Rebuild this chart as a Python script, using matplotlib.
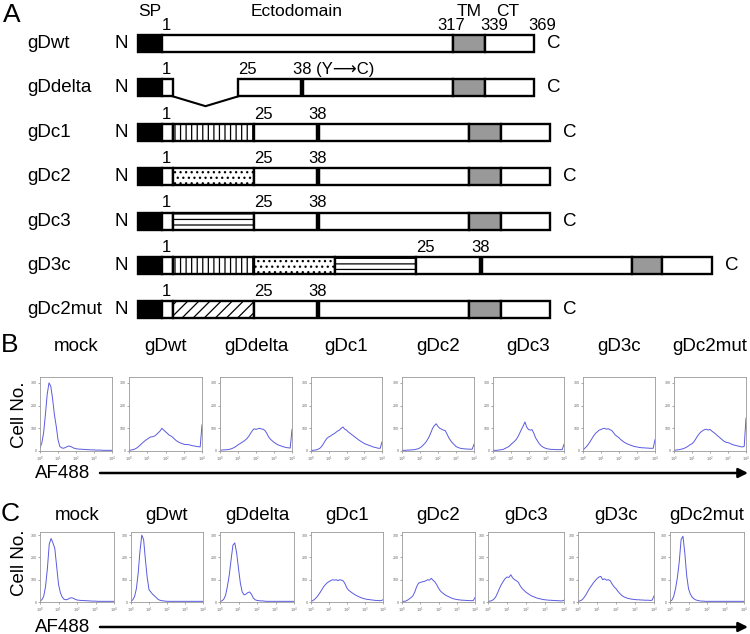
import numpy as np
import matplotlib
matplotlib.use("Agg")
import matplotlib.pyplot as plt
from matplotlib.patches import Rectangle
from matplotlib.ticker import NullLocator

plt.rcParams['font.family'] = ['Liberation Sans', 'DejaVu Sans']
plt.rcParams['hatch.linewidth'] = 0.9

W, H = 750, 634

# ---------------- panel A data (schematic units along each bar) ----------------
constructs = ["gDwt", "gDdelta", "gDc1", "gDc2", "gDc3", "gD3c", "gDc2mut"]

segs_gdwt = [(0, 24, "sp"), (24, 315, "plain"), (315, 347, "tm"), (347, 396, "plain")]
segs_gddelta = [(0, 24, "sp"), (24, 35, "plain"), (35, 100, "gap"), (100, 315, "plain"),
                (315, 347, "tm"), (347, 396, "plain")]
segs_gdc1 = [(0, 24, "sp"), (24, 35, "plain"), (35, 116, "vert"), (116, 331, "plain"),
             (331, 363, "tm"), (363, 412, "plain")]
segs_gdc2 = [(0, 24, "sp"), (24, 35, "plain"), (35, 116, "dots"), (116, 331, "plain"),
             (331, 363, "tm"), (363, 412, "plain")]
segs_gdc3 = [(0, 24, "sp"), (24, 35, "plain"), (35, 116, "horiz"), (116, 331, "plain"),
             (331, 363, "tm"), (363, 412, "plain")]
segs_gd3c = [(0, 24, "sp"), (24, 35, "plain"), (35, 116, "vert"), (116, 197, "dots"),
             (197, 278, "horiz"), (278, 494, "plain"), (494, 524, "tm"), (524, 574, "plain")]
segs_gdc2mut = [(0, 24, "sp"), (24, 35, "plain"), (35, 116, "diag"), (116, 331, "plain"),
                (331, 363, "tm"), (363, 412, "plain")]
construct_segments = [segs_gdwt, segs_gddelta, segs_gdc1, segs_gdc2, segs_gdc3, segs_gd3c, segs_gdc2mut]

# position of residue 38 (Y->C) marker
residue38_pos = [None, 164, 180, 180, 180, 343, 180]

# residue-number labels: (text, position, alignment)
labels_gdwt = [("1", 24, "left"), ("317", 313, "center"), ("339", 356, "center"), ("369", 404, "center")]
labels_gddelta = [("1", 24, "left"), ("25", 100, "left"), ("38 (Y\u27f6C)", 155, "left")]
labels_std = [("1", 24, "left"), ("25", 116, "left"), ("38", 180, "center")]
labels_gd3c = [("1", 24, "left"), ("25", 278, "left"), ("38", 343, "center")]
construct_labels = [labels_gdwt, labels_gddelta, labels_std, labels_std, labels_std, labels_gd3c, labels_std]

domain_headers = [("SP", 12), ("Ectodomain", 159), ("TM", 331), ("CT", 370)]

seg_styles = {
    "sp": ("black", None),
    "plain": ("white", None),
    "tm": ("#999999", None),
    "vert": ("white", "|||"),
    "dots": ("white", "..."),
    "horiz": ("white", "---"),
    "diag": ("white", "///"),
}

# ---------------- panel B / C data (flow cytometry histograms) ----------------
hist_titles = ["mock", "gDwt", "gDdelta", "gDc1", "gDc2", "gDc3", "gD3c", "gDc2mut"]
channel_decades = np.round(np.arange(0, 4.01, 0.1), 1)  # AF488 channel, log10

b_mock = [15, 35, 80, 160, 250, 300, 285, 230, 160, 110, 50, 20, 14, 12, 15, 19, 22, 20, 16, 12,
          10, 9, 8, 8, 7, 7, 6, 6, 5, 5, 5, 4, 4, 4, 4, 3, 3, 3, 3, 3, 3]
b_gdwt = [3, 4, 6, 8, 12, 18, 25, 33, 40, 47, 52, 58, 62, 63, 66, 72, 80, 88, 100, 92,
          85, 78, 70, 66, 60, 52, 45, 40, 36, 33, 30, 28, 29, 27, 25, 23, 22, 20, 19, 18, 115]
b_gddelta = [4, 4, 5, 5, 6, 7, 9, 12, 16, 21, 27, 32, 37, 42, 48, 55, 65, 78, 90, 98,
             95, 98, 100, 97, 96, 90, 78, 62, 52, 45, 38, 33, 28, 25, 22, 19, 17, 15, 14, 13, 95]
b_gdc1 = [3, 3, 4, 5, 8, 12, 20, 32, 45, 56, 62, 66, 72, 76, 82, 88, 92, 100, 106, 96,
          92, 84, 78, 72, 66, 60, 54, 48, 43, 38, 33, 30, 27, 24, 21, 18, 16, 14, 12, 12, 40]
b_gdc2 = [3, 3, 3, 4, 4, 5, 5, 6, 8, 10, 14, 20, 28, 36, 48, 62, 80, 100, 112, 120,
          108, 100, 96, 92, 90, 75, 58, 46, 36, 28, 20, 16, 13, 11, 10, 9, 9, 8, 8, 8, 30]
b_gdc3 = [3, 3, 3, 4, 5, 6, 8, 12, 16, 20, 28, 35, 42, 50, 62, 78, 95, 110, 128, 105,
          95, 92, 94, 78, 58, 45, 33, 24, 18, 14, 11, 9, 8, 7, 7, 6, 6, 6, 6, 6, 30]
b_gd3c = [5, 12, 20, 30, 42, 55, 68, 78, 85, 92, 95, 98, 100, 96, 98, 94, 90, 80, 70, 64,
          58, 50, 44, 38, 34, 30, 27, 24, 21, 19, 18, 16, 15, 14, 14, 13, 13, 12, 12, 12, 50]
b_gdc2mut = [3, 4, 5, 6, 8, 10, 13, 17, 22, 28, 32, 40, 52, 65, 76, 84, 90, 94, 96, 92,
             95, 88, 82, 76, 68, 62, 55, 48, 42, 38, 37, 34, 30, 27, 25, 23, 21, 19, 18, 20, 145]
panel_b_counts = [b_mock, b_gdwt, b_gddelta, b_gdc1, b_gdc2, b_gdc3, b_gd3c, b_gdc2mut]

c_mock = [5, 10, 25, 70, 150, 260, 285, 265, 240, 160, 80, 42, 22, 12, 10, 12, 17, 19, 17, 12,
          9, 8, 7, 7, 6, 6, 5, 5, 4, 4, 4, 3, 3, 3, 3, 3, 3, 3, 3, 3, 3]
c_gdwt = [3, 10, 25, 60, 130, 230, 300, 280, 190, 110, 55, 45, 35, 28, 20, 12, 8, 6, 5, 4,
          3, 3, 3, 3, 3, 3, 3, 3, 3, 3, 3, 3, 3, 3, 3, 3, 3, 3, 3, 3, 3]
c_gddelta = [3, 5, 12, 30, 70, 120, 190, 255, 265, 220, 150, 85, 45, 32, 35, 42, 45, 35, 18, 10,
             7, 6, 5, 5, 4, 3, 3, 3, 3, 3, 3, 3, 3, 3, 3, 3, 3, 3, 3, 3, 3]
c_gdc1 = [3, 6, 12, 20, 30, 42, 55, 68, 78, 86, 92, 96, 100, 98, 100, 96, 100, 98, 94, 80,
          62, 52, 46, 40, 35, 30, 26, 22, 19, 16, 14, 12, 11, 10, 9, 8, 7, 7, 6, 6, 10]
c_gdc2 = [3, 3, 4, 8, 14, 20, 28, 45, 68, 84, 88, 90, 92, 95, 100, 98, 106, 98, 90, 78,
          62, 50, 42, 36, 30, 26, 22, 18, 15, 13, 11, 10, 9, 8, 8, 7, 7, 6, 6, 6, 20]
c_gdc3 = [3, 4, 6, 12, 22, 40, 60, 78, 92, 105, 112, 110, 122, 108, 100, 95, 88, 72, 60, 52,
          44, 38, 32, 27, 24, 20, 17, 15, 13, 11, 10, 9, 8, 8, 7, 7, 6, 6, 5, 5, 8]
c_gd3c = [3, 5, 9, 18, 30, 45, 60, 72, 85, 95, 105, 112, 115, 100, 104, 98, 100, 95, 80, 68,
          60, 48, 38, 30, 24, 20, 17, 15, 13, 12, 11, 10, 10, 9, 9, 8, 8, 8, 7, 8, 27]
c_gdc2mut = [3, 8, 25, 60, 110, 180, 280, 295, 220, 120, 60, 35, 22, 14, 9, 7, 5, 4, 4, 3,
             3, 3, 3, 3, 3, 3, 3, 3, 3, 3, 3, 3, 3, 3, 3, 3, 3, 3, 3, 3, 3]
panel_c_counts = [c_mock, c_gdwt, c_gddelta, c_gdc1, c_gdc2, c_gdc3, c_gd3c, c_gdc2mut]

# ---------------- figure ----------------
fig = plt.figure(figsize=(W / 100, H / 100), dpi=100)

# panel A axes: x in schematic units (bar starts at 138 px), y in construct rows
ax_a = fig.add_axes([0, 0, 1, 1])
row0_px, row_step = 43.5, 44.4
ax_a.set_xlim(-138, W - 138)
ax_a.set_ylim((H - row0_px) / row_step, -row0_px / row_step)
ax_a.axis('off')

bar_h = 17 / row_step
for i, name in enumerate(constructs):
    segs = construct_segments[i]
    for start, end, kind in segs:
        if kind == "gap":
            ax_a.plot([start, (start + end) / 2, end],
                      [i + bar_h / 2, i + bar_h / 2 + 0.22, i + bar_h / 2],
                      color='black', lw=1.5, solid_joinstyle='miter')
            continue
        fc, hatch = seg_styles[kind]
        ax_a.add_patch(Rectangle((start, i - bar_h / 2), end - start, bar_h,
                                 facecolor=fc, edgecolor='black', hatch=hatch, lw=1.7))
    if residue38_pos[i] is not None:
        ax_a.vlines(residue38_pos[i], i - bar_h / 2, i + bar_h / 2, color='black', lw=3.2)
    for txt, pos, ha in construct_labels[i]:
        ax_a.text(pos, i - bar_h / 2 - 0.05, txt, ha=ha, va='bottom', fontsize=12)
    ax_a.text(-111, i, name, ha='left', va='center', fontsize=13.5)
    ax_a.text(-23, i, "N", ha='left', va='center', fontsize=13.5)
    ax_a.text(segs[-1][1] + 13, i, "C", ha='left', va='center', fontsize=13.5)

for txt, pos in domain_headers:
    ax_a.text(pos, -0.615, txt, ha='center', va='baseline', fontsize=12.5)

# panel letters
fig.text(12 / W, 1 - 15 / H, "A", ha='center', va='center', fontsize=19)
fig.text(10 / W, 1 - 345 / H, "B", ha='center', va='center', fontsize=19)
fig.text(10 / W, 1 - 514 / H, "C", ha='center', va='center', fontsize=19)


def hist_panel(left, top, width, height, counts, ymax, title, title_y):
    ax = fig.add_axes([left / W, 1 - (top + height) / H, width / W, height / H])
    ax.plot(10 ** channel_decades, counts, color='#5a5ae0', lw=0.7)
    ax.set_xscale('log')
    ax.set_xlim(1, 1e4)
    ax.set_ylim(0, ymax)
    ax.set_xticks([1, 10, 100, 1000, 10000])
    ax.set_xticklabels([r'$10^{%d}$' % k for k in range(5)])
    ax.xaxis.set_minor_locator(NullLocator())
    ax.set_yticks([0, 100, 200, 300])
    ax.tick_params(labelsize=2.6, length=1.5, width=0.4, pad=1, colors='#666666')
    for s in ax.spines.values():
        s.set_color('#999999')
        s.set_linewidth(0.6)
    fig.text((left + width / 2) / W, 1 - title_y / H, title, ha='center', va='center', fontsize=13.5)
    return ax


b_lefts = [40, 129, 220, 311, 402, 493, 583, 674]
b_widths = [72, 73, 72, 71, 72, 71, 72, 72]
c_lefts = [40, 131, 220, 311, 402, 488, 578, 670]
c_widths = [74, 72, 74, 72, 73, 76, 76, 74]

for k in range(8):
    hist_panel(b_lefts[k], 377, b_widths[k], 74, panel_b_counts[k], 326, hist_titles[k], 346)
    hist_panel(c_lefts[k], 532, c_widths[k], 70, panel_c_counts[k], 314, hist_titles[k], 515)

# axis captions and arrows
for y_cell, y_axis in [(415, 473), (563, 627)]:
    fig.text(20 / W, 1 - y_cell / H, "Cell No.", rotation=90, ha='center', va='center', fontsize=13.5)
    fig.text(35 / W, 1 - y_axis / H, "AF488", ha='left', va='center', fontsize=13.5)
    fig.add_artist(plt.Annotation('', xy=(748 / W, 1 - y_axis / H), xytext=(100 / W, 1 - y_axis / H),
                                  xycoords='figure fraction', textcoords='figure fraction',
                                  arrowprops=dict(arrowstyle='-|>', lw=1.8, color='black',
                                                  mutation_scale=14, shrinkA=0, shrinkB=0)))

fig.savefig("out.png", dpi=100)
